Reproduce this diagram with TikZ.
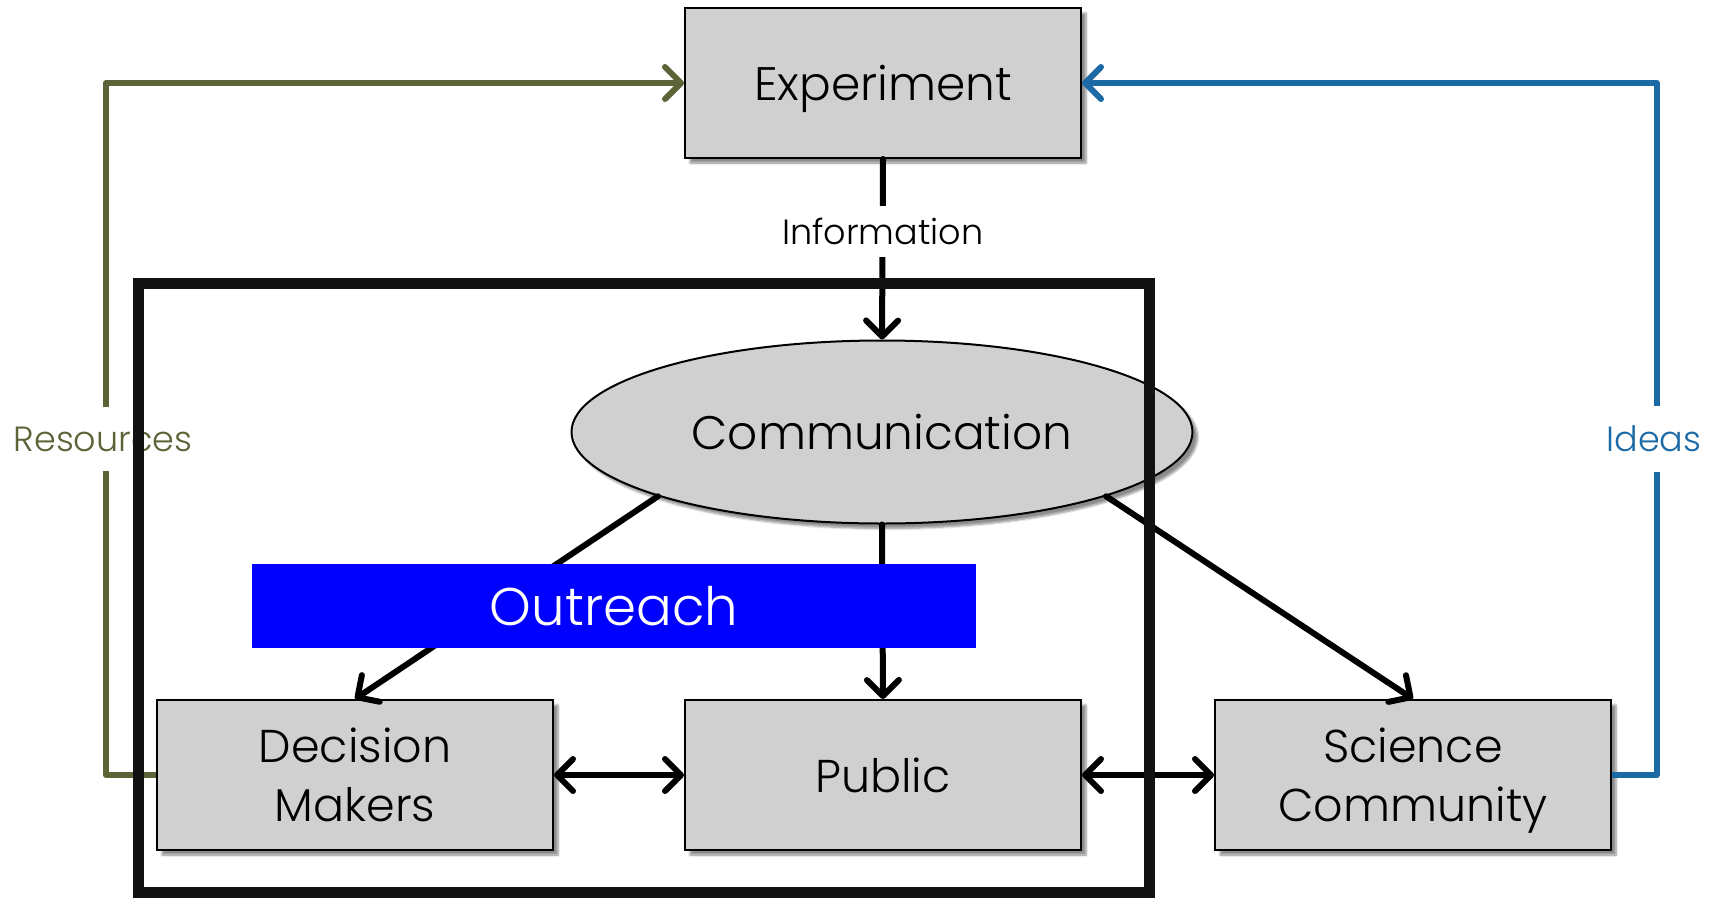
\documentclass[tikz,border=0pt]{standalone}
\usepackage{fontspec}
\setmainfont{Poppins}[UprightFont={* Light}]
\usetikzlibrary{arrows.meta,shapes.geometric,shadows.blur}

\definecolor{boxgray}{RGB}{208,208,208}
\definecolor{olivedark}{RGB}{91,99,55}
\definecolor{ideablue}{RGB}{28,106,165}
\definecolor{outreachblue}{RGB}{0,0,255}

\tikzset{
  blockbox/.style={draw=black, line width=2pt, fill=boxgray, minimum width=396pt,
    minimum height=150pt, inner sep=0pt, align=center, text depth=0pt,
    font=\fontsize{46}{59}\selectfont,
    blur shadow={shadow xshift=5pt, shadow yshift=-5pt, shadow blur steps=6, shadow opacity=45}},
  commshape/.style={ellipse, draw=black, line width=2pt, fill=boxgray, minimum width=621pt,
    minimum height=183pt, inner sep=0pt, text depth=0pt, font=\fontsize{47}{52}\selectfont,
    blur shadow={shadow xshift=5pt, shadow yshift=-5pt, shadow blur steps=6, shadow opacity=45}},
  flowarrow/.style={line width=6pt, line cap=round,
    -{Straight Barb[length=16pt, width=32pt, line cap=round, line join=round]}},
  twowayarrow/.style={line width=6pt, line cap=round,
    {Straight Barb[length=16pt, width=32pt, line cap=round, line join=round]}-{Straight Barb[length=16pt, width=32pt, line cap=round, line join=round]}},
  feedback/.style={line width=6pt, line join=round,
    -{Straight Barb[length=16pt, width=32pt, line cap=round, line join=round]}},
  sidelabel/.style={fill=white, inner xsep=1pt, inner ysep=20pt, font=\fontsize{35}{40}\selectfont},
  infolabel/.style={fill=white, inner xsep=2pt, inner ysep=12pt, font=\fontsize{35}{40}\selectfont},
}

\begin{document}
\begin{tikzpicture}[x=1pt, y=-1pt]
  \useasboundingbox (0,0) rectangle (1721,900);

  % blocks
  \node[blockbox, font=\fontsize{47}{59}\selectfont] (exp) at (883,83) {Experiment};
  \node[commshape] (comm) at (882,432) {Communication};
  \node[blockbox] (dm)  at (355,775) {Decision\\Makers};
  \node[blockbox] (pub) at (883,775) {Public};
  \node[blockbox] (sc)  at (1413,775) {Science\\Community};

  % feedback loops back to the experiment
  \coordinate (resbend) at (106,775);
  \coordinate (ideabend) at (1657,775);
  \draw[feedback, draw=olivedark] (dm.west) -- (resbend) |- (exp.west);
  \draw[feedback, draw=ideablue] (sc.east) -- (ideabend) |- (exp.east);
  \node[sidelabel, text=olivedark] (reslbl) at (103,439) {Resources};
  \node[sidelabel, text=ideablue] (idealbl) at (1654,439) {Ideas};

  % information flow
  \draw[flowarrow] (exp.south) -- (comm.north)
    node[pos=0.4, infolabel, text=black] (infolbl) {Information};

  % outreach paths
  \draw[flowarrow] (comm.196) -- (dm.north);
  \draw[flowarrow] (comm.south) -- (pub.north);
  \draw[flowarrow] (comm.-16) -- (sc.north);
  \draw[twowayarrow] (dm.east) -- (pub.west);
  \draw[twowayarrow] (pub.east) -- (sc.west);

  \node[fill=outreachblue, text=white, minimum width=724pt, minimum height=84pt,
        inner sep=0pt, font=\fontsize{53}{58}\selectfont] (outreach) at (614,606) {Outreach};

  % frame around the outreach area
  \draw[line width=11pt, draw=black!93] (138,283) rectangle (1149,892);
\end{tikzpicture}
\end{document}
